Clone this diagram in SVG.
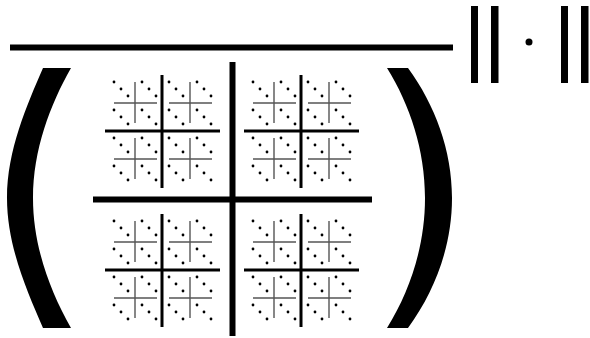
<svg xmlns="http://www.w3.org/2000/svg" width="590" height="338" viewBox="0 0 590 338">
<style>
.big{stroke:#000;stroke-width:6;fill:none}
.med{stroke:#000;stroke-width:3;fill:none}
.sm{stroke:#555;stroke-width:1.4;fill:none}
.dot{fill:#000}
.ink{fill:#000}
</style>
<defs>
<g id="s">
<path class="sm" d="M-21,0H22M0,-21V20"/>
<g class="dot">
<circle cx="-21" cy="-21" r="1.4"/><circle cx="-14" cy="-14" r="1.4"/><circle cx="-7" cy="-7" r="1.4"/>
<circle cx="7" cy="-21" r="1.4"/><circle cx="14" cy="-14" r="1.4"/><circle cx="21" cy="-7" r="1.4"/>
<circle cx="-21" cy="7" r="1.4"/><circle cx="-14" cy="14" r="1.4"/><circle cx="-7" cy="21" r="1.4"/>
<circle cx="7" cy="7" r="1.4"/><circle cx="14" cy="14" r="1.4"/><circle cx="21" cy="21" r="1.4"/>
</g>
</g>
<g id="m">
<path class="med" d="M-57,0H58M0,-56V57"/>
<use href="#s" x="-27" y="-28"/>
<use href="#s" x="28" y="-28"/>
<use href="#s" x="-27" y="28"/>
<use href="#s" x="28" y="28"/>
</g>
</defs>
<g id="overline"><rect class="ink" x="10" y="44.5" width="443" height="6"/></g>
<g id="left-paren"><path class="ink" d="M43,68 L71,68 C50,105 33,150 33,198 C33,246 50,291 71,328 L43,328 C27,291 7,246 7,198 C7,150 27,105 43,68 Z"/></g>
<g id="right-paren"><path class="ink" d="M387,68 L408,68 C435,105 452,150 452,198 C452,246 435,291 408,328 L387,328 C410,291 425,246 425,198 C425,150 410,105 387,68 Z"/></g>
<g id="grid">
<path class="big" d="M232.5,62V336M93,199.5H372"/>
<use href="#m" x="162" y="131"/>
<use href="#m" x="301" y="131"/>
<use href="#m" x="162" y="270"/>
<use href="#m" x="301" y="270"/>
</g>
<g id="norm">
<rect class="ink" x="471" y="6" width="7" height="77"/>
<rect class="ink" x="491" y="6" width="7.5" height="77"/>
<circle class="ink" cx="529" cy="42" r="3.5"/>
<rect class="ink" x="561" y="6" width="7" height="77"/>
<rect class="ink" x="581" y="6" width="7.5" height="77"/>
</g>
</svg>
